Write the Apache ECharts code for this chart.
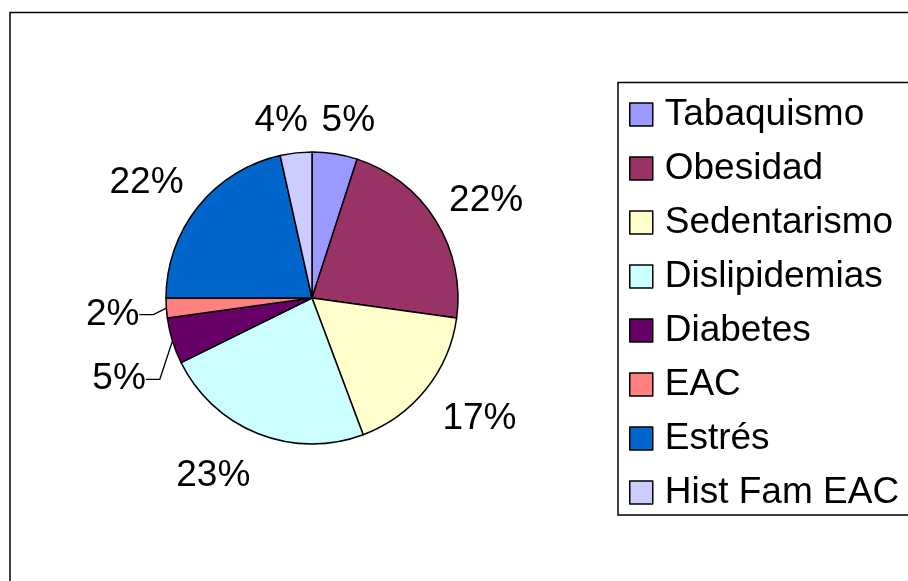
<!DOCTYPE html>
<html>
<head>
<meta charset="utf-8">
<script src="https://cdn.jsdelivr.net/npm/echarts@6/dist/echarts.min.js"></script>
<style>
html,body{margin:0;padding:0;background:#fff;}
#chart{width:908px;height:581px;}
</style>
</head>
<body>
<div id="chart"></div>
<script>
// ---- data ----
const categories = ['Tabaquismo', 'Obesidad', 'Sedentarismo', 'Dislipidemias', 'Diabetes', 'EAC', 'Estrés', 'Hist Fam EAC'];
const values = [5.0, 22.2, 17.1, 23.4, 5.1, 2.2, 21.5, 3.5];
const colors = ['#9999FF', '#993366', '#FFFFCC', '#CCFFFF', '#660066', '#FF8080', '#0066CC', '#CCCCFF'];

// ---- rendering ----
const FONT = '"Liberation Sans", Arial, sans-serif';
const FS = 37;
// how each slice label is placed: on a label ring ('near' / 'far') or with a leader line ('line')
const labelGroup = ['near', 'far', 'far', 'far', 'line', 'line', 'far', 'near'];
// small label nudges [dx, dy] to mimic the spreadsheet label placement
const labelNudge = [[8, 2], [2, 10], [9, -6], [-24, -11], [-2, 36], [-2, 6], [-7, 12], [-11, 3]];
const fmt = p => Math.round(p.value) + '%';

const chart = echarts.init(document.getElementById('chart'), null, {renderer: 'canvas'});

const mainData = categories.map((n, i) => ({
  name: n, value: values[i],
  itemStyle: {color: colors[i]},
  label: {show: labelGroup[i] === 'line'},
  labelLine: {show: labelGroup[i] === 'line'}
}));

const ringSeries = (grp, r0, r1) => ({
  type: 'pie',
  center: [312, 298],
  radius: [r0, r1],
  startAngle: 90,
  clockwise: true,
  silent: true,
  z: 1,
  animation: false,
  avoidLabelOverlap: false,
  itemStyle: {color: 'rgba(0,0,0,0)', borderWidth: 0},
  emphasis: {disabled: true},
  label: {position: 'inside', formatter: fmt, color: '#000', fontFamily: FONT, fontSize: FS},
  labelLine: {show: false},
  labelLayout: p => ({dx: labelNudge[p.dataIndex][0], dy: labelNudge[p.dataIndex][1], hideOverlap: false}),
  data: categories.map((n, i) => ({name: n, value: values[i], label: {show: labelGroup[i] === grp}}))
});

chart.setOption({
  backgroundColor: '#fff',
  animation: false,
  graphic: [
    {type: 'rect', shape: {x: 10, y: 12.5, width: 1000, height: 1000}, style: {fill: 'none', stroke: '#000', lineWidth: 1.5}, silent: true},
    {type: 'rect', shape: {x: 618, y: 82.5, width: 400, height: 432.5}, style: {fill: 'none', stroke: '#000', lineWidth: 1.5}, silent: true}
  ],
  legend: {
    orient: 'vertical',
    left: 629,
    top: 96,
    padding: 0,
    itemWidth: 23,
    itemHeight: 23,
    itemGap: 17,
    icon: 'rect',
    itemStyle: {borderColor: '#000', borderWidth: 1.5},
    textStyle: {fontFamily: FONT, fontSize: FS, color: '#000', padding: [0, 0, 0, 7]},
    data: categories,
    selectedMode: false
  },
  series: [
    {
      type: 'pie',
      center: [312, 298],
      radius: [0, 146],
      startAngle: 90,
      clockwise: true,
      z: 2,
      animation: false,
      avoidLabelOverlap: false,
      itemStyle: {borderColor: '#000', borderWidth: 1.5},
      emphasis: {disabled: true},
      label: {position: 'outside', formatter: fmt, color: '#000', fontFamily: FONT, fontSize: FS, distanceToLabelLine: 3},
      labelLine: {length: 8, length2: 14, lineStyle: {color: '#000', width: 1.3}},
      labelLayout: p => {
        const r = p.labelRect, d = labelNudge[p.dataIndex];
        return {x: r.x + r.width + d[0], y: r.y + r.height / 2 + d[1], align: 'right', verticalAlign: 'middle', hideOverlap: false};
      },
      data: mainData
    },
    ringSeries('near', 170, 186),
    ringSeries('far', 188, 212)
  ]
});
</script>
</body>
</html>
